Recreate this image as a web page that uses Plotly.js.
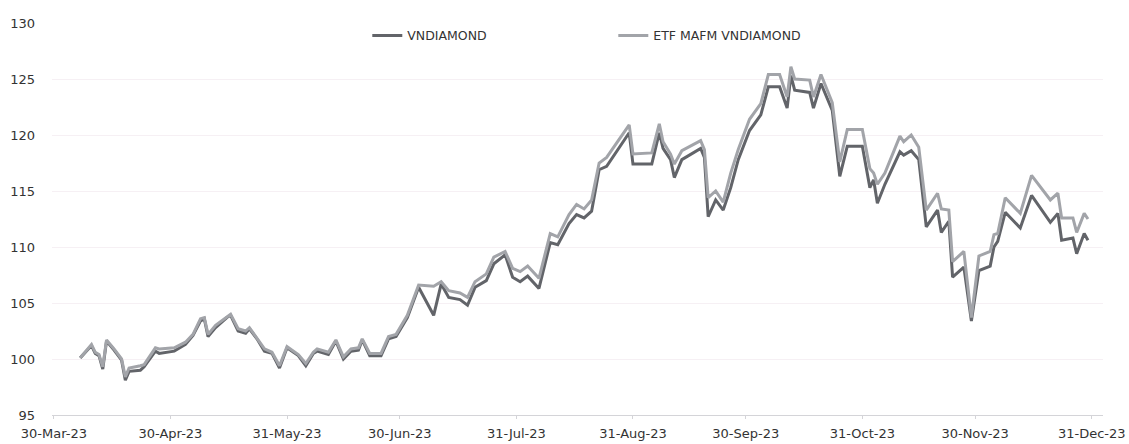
<!DOCTYPE html>
<html>
<head>
<meta charset="utf-8">
<script src="https://cdn.plot.ly/plotly-3.0.1.min.js"></script>
<style>
  html, body { margin: 0; padding: 0; background: #ffffff; }
  #chart { width: 1129px; height: 444px; }
</style>
</head>
<body>
<div id="chart"></div>
<script>
const dates = [
  '2023-04-06','2023-04-09','2023-04-10','2023-04-11','2023-04-12','2023-04-13','2023-04-15','2023-04-17','2023-04-18','2023-04-19',
  '2023-04-22','2023-04-23','2023-04-26','2023-04-27','2023-05-01','2023-05-04','2023-05-06','2023-05-08','2023-05-09','2023-05-10',
  '2023-05-12','2023-05-15','2023-05-16','2023-05-18','2023-05-20','2023-05-21','2023-05-23','2023-05-25','2023-05-27','2023-05-29',
  '2023-05-31','2023-06-03','2023-06-05','2023-06-07','2023-06-08','2023-06-11','2023-06-13','2023-06-15','2023-06-17','2023-06-19',
  '2023-06-20','2023-06-22','2023-06-25','2023-06-27','2023-06-29','2023-07-02','2023-07-05','2023-07-09','2023-07-11','2023-07-13',
  '2023-07-16','2023-07-18','2023-07-20','2023-07-23','2023-07-25','2023-07-28','2023-07-30','2023-08-01','2023-08-03','2023-08-06',
  '2023-08-09','2023-08-11','2023-08-14','2023-08-16','2023-08-18','2023-08-20','2023-08-22','2023-08-24','2023-08-30','2023-08-31',
  '2023-09-05','2023-09-07','2023-09-08','2023-09-10','2023-09-11','2023-09-13','2023-09-18','2023-09-19','2023-09-20','2023-09-22',
  '2023-09-24','2023-09-26','2023-09-28','2023-10-01','2023-10-04','2023-10-06','2023-10-09','2023-10-11','2023-10-12','2023-10-13',
  '2023-10-17','2023-10-18','2023-10-20','2023-10-23','2023-10-25','2023-10-27','2023-10-31','2023-11-02','2023-11-03','2023-11-04',
  '2023-11-06','2023-11-10','2023-11-11','2023-11-13','2023-11-15','2023-11-17','2023-11-20','2023-11-21','2023-11-23','2023-11-24',
  '2023-11-27','2023-11-29','2023-12-01','2023-12-04','2023-12-05','2023-12-06','2023-12-08','2023-12-12','2023-12-15','2023-12-20',
  '2023-12-22','2023-12-23','2023-12-26','2023-12-27','2023-12-29','2023-12-30'
];

const vndiamond = [
  100.1,101.2,100.5,100.3,99.1,101.6,100.8,99.9,98.1,98.9,
  99.0,99.3,100.7,100.5,100.7,101.3,102.1,103.4,103.6,102.0,
  102.8,103.7,103.9,102.5,102.3,102.7,101.8,100.7,100.5,99.2,
  101.0,100.3,99.4,100.5,100.7,100.4,101.6,100.0,100.7,100.8,
  101.7,100.3,100.3,101.8,102.0,103.7,106.4,103.9,106.7,105.5,
  105.3,104.8,106.4,107.0,108.5,109.3,107.3,106.9,107.4,106.3,
  110.4,110.2,112.1,112.9,112.6,113.2,116.9,117.2,120.2,117.4,
  117.4,120.2,118.8,117.8,116.2,117.8,118.8,118.0,112.7,114.2,
  113.3,115.3,117.8,120.4,121.8,124.3,124.3,122.4,125.3,124.0,
  123.8,122.4,124.6,122.2,116.3,119.0,119.0,115.3,116.0,113.9,
  115.6,118.5,118.2,118.6,117.8,111.8,113.3,111.3,112.3,107.3,
  108.2,103.4,107.9,108.3,110.0,110.5,113.1,111.7,114.6,112.2,
  113.0,110.6,110.8,109.4,111.2,110.6
];

const etfMafm = [
  100.1,101.3,100.6,100.4,99.3,101.7,100.9,100.0,98.4,99.2,
  99.4,99.5,101.0,100.9,101.0,101.5,102.2,103.6,103.7,102.2,
  103.0,103.8,104.0,102.7,102.5,102.8,101.9,100.9,100.6,99.4,
  101.1,100.4,99.6,100.6,100.9,100.6,101.7,100.2,100.9,101.0,
  101.8,100.5,100.5,102.0,102.2,103.9,106.6,106.5,106.9,106.1,
  105.9,105.5,106.9,107.6,109.1,109.6,108.1,107.8,108.3,107.2,
  111.2,110.9,112.9,113.8,113.4,114.2,117.5,118.0,120.9,118.3,
  118.4,121.0,119.4,118.3,117.4,118.6,119.5,118.7,114.4,115.0,
  114.0,116.6,118.7,121.4,122.8,125.4,125.4,123.4,126.1,125.0,
  124.9,123.4,125.4,122.9,117.6,120.5,120.5,117.0,116.6,115.6,
  116.6,119.9,119.4,120.0,118.9,113.3,114.8,113.4,113.3,108.7,
  109.6,103.7,109.2,109.6,111.1,111.2,114.4,113.0,116.4,114.2,
  114.8,112.6,112.6,111.3,113.0,112.5
];

const tickDates = ['2023-03-30','2023-04-30','2023-05-31','2023-06-30','2023-07-31','2023-08-31','2023-09-30','2023-10-31','2023-11-30','2023-12-31'];
const tickLabels = ['30-Mar-23','30-Apr-23','31-May-23','30-Jun-23','31-Jul-23','31-Aug-23','30-Sep-23','31-Oct-23','30-Nov-23','31-Dec-23'];
const yTicks = [95,100,105,110,115,120,125,130];

const seriesNames = ['VNDIAMOND','ETF MAFM VNDIAMOND'];

const traces = [
  {
    x: dates, y: vndiamond, name: seriesNames[0], type: 'scatter', mode: 'lines',
    line: { color: '#626469', width: 3 }
  },
  {
    x: dates, y: etfMafm, name: seriesNames[1], type: 'scatter', mode: 'lines',
    line: { color: '#a2a4a9', width: 3 }
  }
];

const layout = {
  width: 1129, height: 444,
  margin: { l: 52, r: 26, t: 23, b: 29 },
  paper_bgcolor: '#ffffff', plot_bgcolor: '#ffffff',
  font: { family: 'DejaVu Sans, Verdana, sans-serif', size: 13, color: '#333333' },
  showlegend: true,
  legend: {
    orientation: 'h', x: 0.30, xanchor: 'left', y: 0.967, yanchor: 'middle',
    bgcolor: 'rgba(0,0,0,0)', font: { size: 12.5, color: '#333333' },
    entrywidth: 201, entrywidthmode: 'pixels', traceorder: 'normal'
  },
  xaxis: {
    type: 'date',
    range: ['2023-03-29 12:00', '2024-01-03'],
    tickmode: 'array', tickvals: tickDates, ticktext: tickLabels,
    showgrid: false, zeroline: false,
    showline: true, linecolor: '#d4d4d8', linewidth: 1,
    ticks: 'outside', ticklen: 3, tickcolor: '#d4d4d8',
    ticklabelstandoff: 3,
    tickfont: { size: 13, color: '#333333' }
  },
  yaxis: {
    range: [95, 130],
    tickmode: 'array', tickvals: yTicks,
    showgrid: true, gridcolor: '#f6f0f4', gridwidth: 1,
    zeroline: false, showline: false, ticks: '',
    ticklabelstandoff: 16,
    tickfont: { size: 13, color: '#333333' }
  }
};

Plotly.newPlot('chart', traces, layout, { displayModeBar: false, staticPlot: true });
</script>
</body>
</html>
